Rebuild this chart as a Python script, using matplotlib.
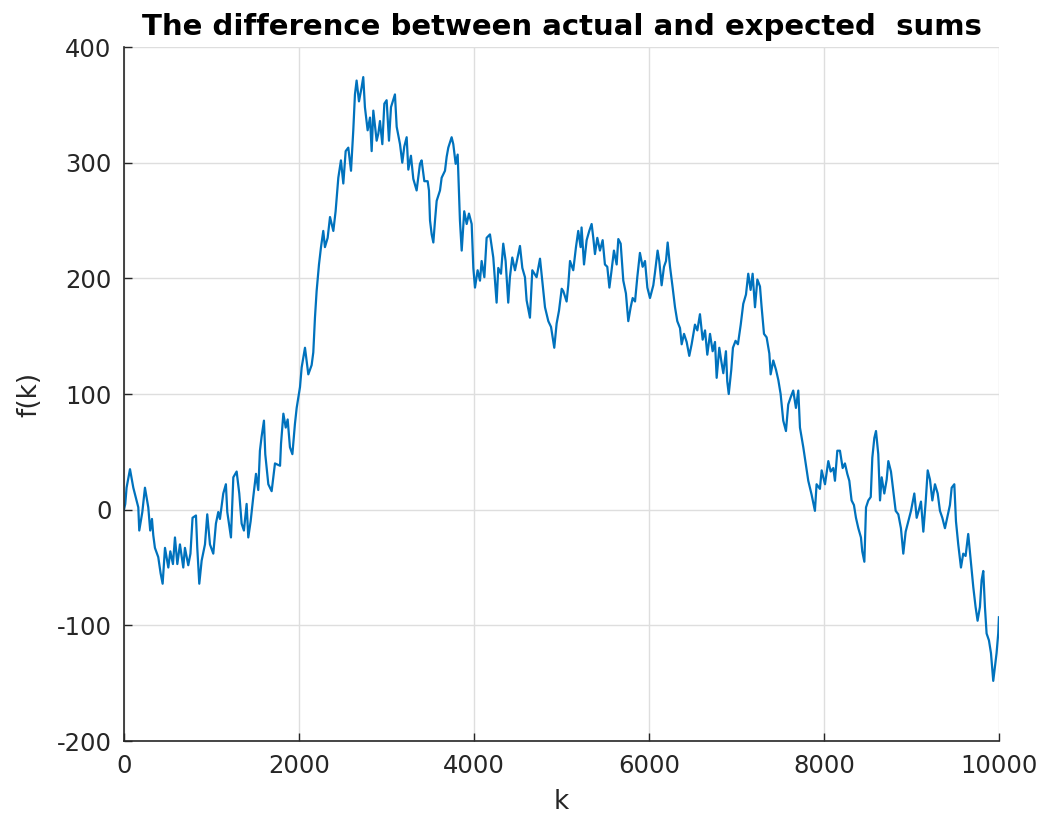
import matplotlib
matplotlib.use("Agg")
import matplotlib.pyplot as plt

# values (k, f(k))
k_vals = [0, 15, 30, 69, 107, 164, 175, 210, 240, 278, 300, 320, 335, 354, 392, 419, 442, 469, 507, 530,
          560, 583, 610, 640, 678, 697, 735, 760, 784, 823, 838, 861, 888, 926, 952, 983, 1021, 1051, 1078, 1097,
          1135, 1165, 1181, 1223, 1250, 1288, 1318, 1345, 1371, 1402, 1421, 1448, 1478, 1509, 1535, 1554, 1573, 1600,
          1615, 1650, 1688, 1726, 1784, 1795, 1822, 1849, 1871, 1897, 1925, 1954, 1974, 2012, 2031, 2069, 2107, 2145,
          2164, 2183, 2202, 2229, 2252, 2278, 2297, 2328, 2355, 2393, 2419, 2450, 2480, 2507, 2534, 2564, 2595, 2621,
          2640, 2659, 2686, 2716, 2735, 2754, 2785, 2812, 2831, 2850, 2888, 2907, 2926, 2953, 2976, 3002, 3029, 3052,
          3097, 3117, 3155, 3181, 3204, 3231, 3250, 3280, 3307,
          3345, 3383, 3402, 3433, 3471, 3486, 3498, 3517, 3536, 3555, 3574, 3612, 3631, 3669, 3688, 3707, 3745, 3764,
          3791, 3814, 3840, 3860, 3889, 3917, 3943, 3974, 3993, 4012, 4042, 4069, 4088, 4119, 4145, 4183, 4221, 4259,
          4278, 4309, 4335, 4362, 4392, 4411, 4438, 4469, 4499, 4526, 4553, 4583, 4602, 4640, 4667, 4716, 4755, 4781,
          4812, 4850, 4881, 4918, 4945, 4972,
          5003, 5021, 5059, 5078, 5098, 5135, 5166, 5192, 5219, 5230, 5258, 5288, 5318, 5345, 5364, 5383, 5410, 5440,
          5471, 5497, 5524, 5548, 5573, 5600, 5631, 5650, 5677, 5707, 5737, 5764, 5791, 5814, 5841, 5867, 5897, 5928,
          5955, 5982, 6012, 6050, 6069, 6099, 6118, 6145, 6172, 6195, 6214, 6241, 6271, 6298, 6324, 6355, 6374, 6401,
          6431, 6461, 6488, 6526, 6553, 6583, 6614, 6641, 6667,
          6698, 6728, 6755, 6774, 6804, 6830, 6850, 6880, 6895, 6912, 6941, 6960, 6990, 7017, 7049, 7078, 7109, 7135,
          7162, 7185, 7212, 7239, 7269, 7288, 7315, 7345, 7376, 7391, 7421, 7452, 7479, 7505, 7535, 7566, 7592, 7619,
          7649, 7680, 7707, 7726, 7764, 7794, 7821, 7859, 7897, 7916, 7954, 7974, 8012, 8050, 8077, 8107, 8126, 8153,
          8183, 8214, 8240, 8267, 8290, 8316, 8343,
          8366, 8393, 8423, 8438, 8462, 8481, 8507, 8535, 8553, 8576, 8595, 8621, 8641, 8660, 8690, 8717, 8736, 8766,
          8793, 8820, 8850, 8880, 8907, 8934, 8964, 8995, 9033, 9060, 9086, 9109, 9136, 9163, 9186, 9212, 9239, 9269,
          9300, 9326, 9353, 9383, 9414, 9440, 9460, 9490, 9509, 9535, 9566, 9592, 9619, 9649, 9680, 9707, 9733, 9756,
          9783, 9802, 9821, 9840, 9859, 9886, 9909, 9935, 9954, 9973, 9992, 10000]

f_vals = [0, 5, 19, 35, 19, 2, -18, -2, 19, 2, -18, -8, -22, -33, -41, -55, -64, -33, -50, -36,
          -47, -24, -47, -30, -50, -33, -48, -38, -7, -5, -33, -64, -44, -30, -4, -30, -38, -12, -2, -8,
          14, 22, -2, -24, 28, 33, 14, -12, -18, 5, -24, -10, 11, 31, 17, 51, 63, 77,
          48, 22, 16, 40, 38, 57, 83, 71, 78, 54, 48, 74, 88, 106, 123, 140, 117, 125,
          136, 166, 189, 212, 227, 241, 227, 235, 253, 241, 258, 287, 302, 282, 310, 313, 293, 328,
          359, 371, 353, 365, 374, 348, 328, 339, 310, 345, 319, 325, 336, 316, 351, 354, 319, 348,
          359, 331, 316, 300, 314, 322, 294, 306, 286,
          276, 299, 302, 284, 284, 276, 250, 238, 231, 250, 267, 276, 287, 293, 305, 313, 322, 316,
          299, 307, 250, 224, 258, 247, 256, 247, 209, 192, 207, 198, 215, 201, 235, 238, 218, 179,
          209, 204, 230, 215, 179, 201, 218, 207, 218, 228, 209, 201, 181, 166, 207, 201, 217, 198,
          175, 163, 158, 140, 161, 172,
          191, 189, 180, 194, 215, 207, 227, 241, 227, 244, 212, 233, 241, 247, 235, 221, 235, 224,
          233, 212, 210, 192, 207, 224, 212, 234, 230, 198, 187, 163, 175, 183, 180, 201, 222, 210,
          215, 192, 183, 194, 205, 224, 215, 194, 210, 215, 231, 210, 192, 175, 163, 157, 143, 152,
          145, 133, 143, 160, 155, 169, 147, 155, 134,
          152, 137, 145, 114, 140, 127, 118, 137, 111, 100, 121, 140, 146, 143, 160, 178, 186, 204,
          190, 204, 175, 199, 193, 175, 152, 149, 135, 117, 129, 121, 112, 100, 77, 68, 91, 97,
          103, 88, 103, 71, 54, 39, 25, 13, -1, 22, 18, 34, 22, 42, 33, 36, 25, 51,
          51, 36, 40, 31, 25, 8, 4,
          -7, -16, -24, -36, -45, 2, 8, 11, 45, 62, 68, 48, 8, 28, 14, 26, 42, 33,
          16, -1, -4, -16, -38, -19, -10, -1, 14, -7, 0, 7, -19, 7, 34, 26, 8, 22,
          14, -1, -7, -16, -5, 4, 19, 22, -10, -30, -50, -38, -40, -21, -46, -67, -84, -96,
          -84, -61, -53, -84, -107, -113, -124, -148, -136, -124, -107, -93]

x_ticks = [0, 2000, 4000, 6000, 8000, 10000]
y_ticks = [-200, -100, 0, 100, 200, 300, 400]

plt.rcParams['font.family'] = ['DejaVu Sans']
plt.rcParams['axes.unicode_minus'] = False
fig = plt.figure(figsize=(10.46, 8.19), dpi=100)
ax = fig.add_axes([0.1185, 0.0952, 0.8365, 0.8474])

ax.plot(k_vals, f_vals, color='#0072BD', lw=1.6)

ax.set_xlim(0, 10000)
ax.set_ylim(-200, 400)
ax.set_xticks(x_ticks)
ax.set_yticks(y_ticks)
ax.grid(True, color='#dedede', lw=1)
ax.set_axisbelow(True)
for s in ('top', 'right'):
    ax.spines[s].set_visible(False)
for s in ('left', 'bottom'):
    ax.spines[s].set_color('#262626')
    ax.spines[s].set_linewidth(1.2)
ax.tick_params(direction='in', length=6, width=1, colors='#262626', labelsize=17.5, pad=9)

ax.set_xlabel('k', fontsize=19, color='#262626', labelpad=8)
ax.set_ylabel('f(k)', fontsize=19, color='#262626', labelpad=10)
ax.set_title('The difference between actual and expected  sums', fontsize=21, fontweight='bold', pad=9)

fig.savefig('out.png', dpi=100, facecolor='white')
